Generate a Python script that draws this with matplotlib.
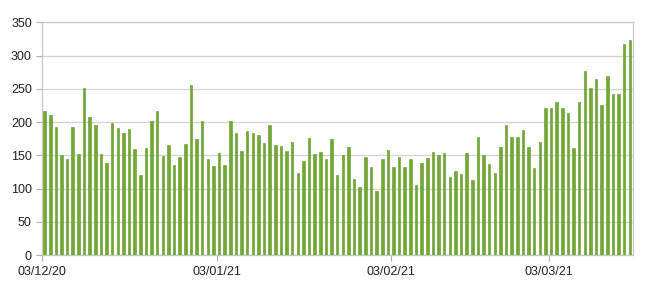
import numpy as np
import pandas as pd
import matplotlib
matplotlib.use("Agg")
import matplotlib.pyplot as plt
import matplotlib.dates as mdates

# daily values, 03/12/20 .. 17/03/21
start = "2020-12-03"
values = [216, 210, 192, 150, 144, 192, 152, 251, 208, 195,
          152, 138, 199, 191, 183, 189, 160, 121, 161, 201,
          216, 149, 165, 135, 148, 167, 256, 175, 202, 145,
          134, 154, 136, 202, 183, 156, 187, 183, 180, 168,
          196, 165, 164, 156, 170, 124, 142, 176, 152, 155,
          144, 174, 120, 150, 162, 115, 102, 148, 132, 97,
          145, 158, 133, 147, 132, 144, 105, 139, 146, 155,
          151, 153, 118, 126, 122, 154, 113, 177, 151, 137,
          124, 162, 196, 178, 178, 188, 163, 131, 170, 221,
          221, 231, 221, 213, 161, 230, 277, 252, 265, 226,
          269, 242, 242, 318, 323]
dates = pd.date_range(start, periods=len(values), freq="D")
tick_dates = ["2020-12-03", "2021-01-03", "2021-02-03", "2021-03-03"]

plt.rcParams['font.family'] = ['Liberation Sans', 'DejaVu Sans']

fig = plt.figure(figsize=(6.5, 2.94), dpi=100)
ax = fig.add_axes([0.065, 0.132, 0.909, 0.792])

x = mdates.date2num(dates) + 0.42
ax.bar(x, values, width=0.45, color='#72aa33', edgecolor='#5f9624', linewidth=0.4, zorder=3)

ax.set_xlim(mdates.date2num(pd.Timestamp("2020-12-03")), mdates.date2num(pd.Timestamp("2021-03-18")))
ax.set_ylim(0, 350)
ax.set_yticks(np.arange(0, 351, 50))
ax.set_xticks(mdates.date2num(pd.to_datetime(tick_dates)))
ax.xaxis.set_major_formatter(mdates.DateFormatter("%d/%m/%y"))

ax.grid(axis='y', color='#d4d4d4', linewidth=0.9, zorder=0)
for s in ax.spines.values():
    s.set_color('#c8c8c8')
    s.set_linewidth(0.9)
ax.tick_params(axis='both', colors='#b0b0b0', labelcolor='#222222', labelsize=9, length=4, width=0.8)

fig.savefig("out.png", dpi=100)
